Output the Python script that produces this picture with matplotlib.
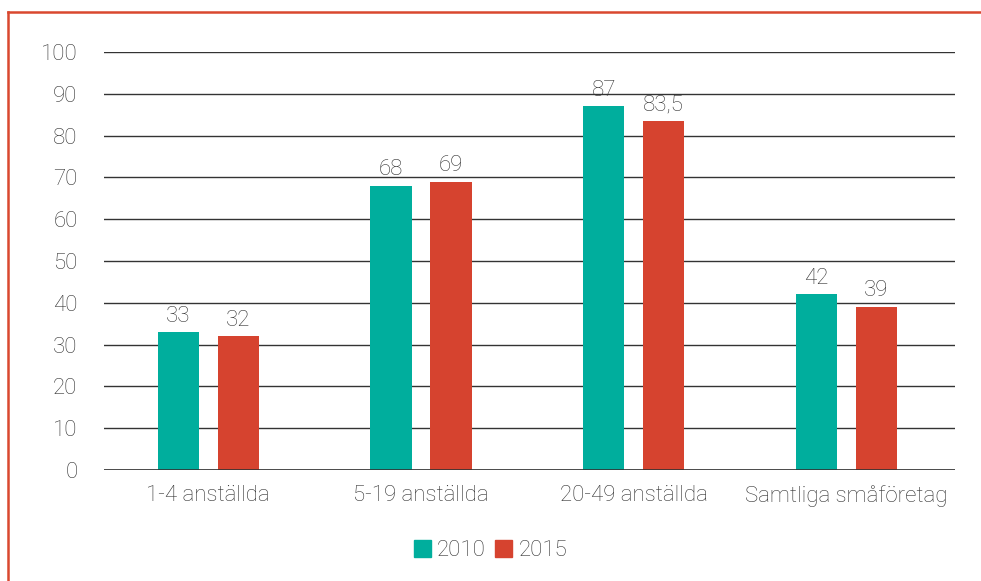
import matplotlib.pyplot as plt
from matplotlib.lines import Line2D
from matplotlib.patches import Patch
import numpy as np

plt.rcParams['font.family'] = ['Roboto', 'DejaVu Sans']
plt.rcParams['font.weight'] = 'light'

# --- Données ---
kategorier = ["1-4 anställda", "5-19 anställda", "20-49 anställda", "Samtliga småföretag"]
ar_2010 = [33, 68, 87, 42]
ar_2015 = [32, 69, 83.5, 39]
serier = ["2010", "2015"]
yticks = [0, 10, 20, 30, 40, 50, 60, 70, 80, 90, 100]

teal = "#00AE9D"
rod = "#D6432F"
text_col = "#333333"
fs = 16

fig = plt.figure(figsize=(9.81, 5.81), dpi=100)
ax = fig.add_axes([0.106, 0.191, 0.8675, 0.7195])

x = np.arange(len(kategorier))
w = 0.193
off = 0.141

b1 = ax.bar(x - off, ar_2010, w, color=teal, zorder=3)
b2 = ax.bar(x + off, ar_2015, w, color=rod, zorder=3)

def fmt(v):
    return f"{v:g}".replace(".", ",")

for bars, vals in ((b1, ar_2010), (b2, ar_2015)):
    for b, v in zip(bars, vals):
        ax.annotate(fmt(v), (b.get_x() + b.get_width() / 2, v),
                    xytext=(0, 4), textcoords="offset points",
                    ha="center", va="bottom", fontsize=fs, color=text_col)

ax.set_xlim(-0.49, len(kategorier) - 0.49)
ax.set_ylim(0, 100)
ax.set_yticks(yticks)
ax.set_xticks(x)
ax.set_xticklabels(kategorier)
ax.tick_params(axis="both", length=0, labelsize=fs, colors=text_col)
ax.tick_params(axis="y", pad=19)
ax.tick_params(axis="x", pad=11)

ax.grid(axis="y", color="#333333", linewidth=1.0, zorder=0)
ax.axhline(0, color="#333333", linewidth=1.2, zorder=4)
for s in ax.spines.values():
    s.set_visible(False)

handles = [Patch(color=teal), Patch(color=rod)]
fig.legend(handles, serier, loc="center", bbox_to_anchor=(0.50, 0.052), ncol=2,
           frameon=False, fontsize=fs, handlelength=0.75, handleheight=0.75,
           handletextpad=0.3, columnspacing=0.4, labelcolor=text_col)

# Ram (topp + vänster)
fig.add_artist(Line2D([0.008, 1.0], [0.979, 0.979], color="#D9482F", linewidth=1.8,
                      transform=fig.transFigure))
fig.add_artist(Line2D([0.008, 0.008], [0.0, 0.979], color="#D9482F", linewidth=1.8,
                      transform=fig.transFigure))

plt.savefig("out.png", dpi=100)
